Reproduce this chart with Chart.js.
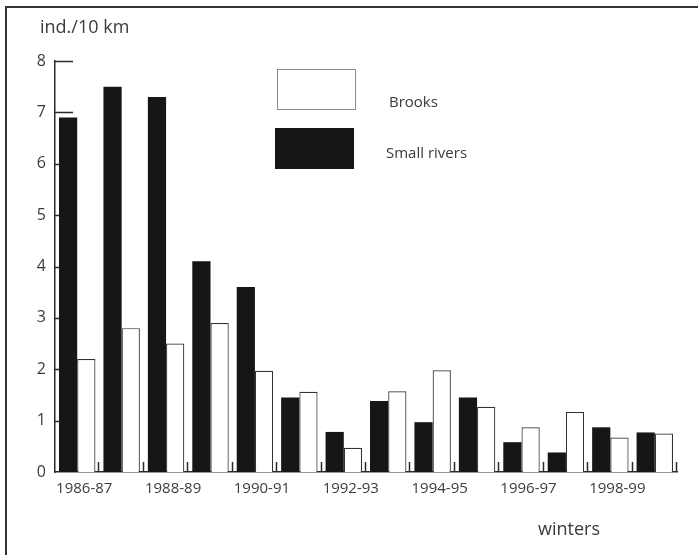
<!DOCTYPE html>
<html>
<head>
<meta charset="utf-8">
<script src="https://cdn.jsdelivr.net/npm/chart.js@4.4.1/dist/chart.umd.min.js"></script>
<style>
  html, body { margin: 0; padding: 0; background: #fff; }
  #wrap { position: relative; width: 698px; height: 555px; overflow: hidden; font-family: "Open Sans", "Noto Sans", sans-serif; color: #3a3a3a; }
  #frameTop { position: absolute; left: 5px; top: 6px; right: 0; height: 0; border-top: 2px solid #333; }
  #frameLeft { position: absolute; left: 5px; top: 6px; bottom: 0; width: 0; border-left: 2px solid #333; }
  #cv { position: absolute; left: 0; top: 0; }
  .txt { position: absolute; white-space: nowrap; line-height: 1; }
  #ytitle { left: 40px; top: 17px; font-size: 18px; }
  #xtitle { left: 538px; top: 519px; font-size: 18px; }
  .lgbox { position: absolute; box-sizing: border-box; width: 79px; height: 41px; }
  .lgtxt { position: absolute; font-size: 15px; line-height: 1; white-space: nowrap; }
</style>
</head>
<body>
<div id="wrap">
  <canvas id="cv" width="698" height="555"></canvas>
  <div id="frameTop"></div>
  <div id="frameLeft"></div>
  <div class="txt" id="ytitle">ind./10 km</div>
  <div class="txt" id="xtitle">winters</div>
  <div id="legend"></div>
</div>
<script>
// ---- data ----
const winters = ["1986-87","1987-88","1988-89","1989-90","1990-91","1991-92","1992-93",
                 "1993-94","1994-95","1995-96","1996-97","1997-98","1998-99","1999-00"];
const smallRivers = [6.9, 7.5, 7.3, 4.1, 3.6, 1.45, 0.78, 1.38, 0.97, 1.45, 0.58, 0.38, 0.87, 0.77];
const brooks      = [2.2, 2.8, 2.5, 2.9, 1.97, 1.56, 0.47, 1.57, 1.98, 1.27, 0.87, 1.17, 0.67, 0.75];
const yTicks = [0, 1, 2, 3, 4, 5, 6, 7, 8];
const seriesNames = ["Brooks", "Small rivers"];

const BLACK = "#161616";
const AXIS = "#2a2a2a";
const LABEL = "#3c3c3c";

// inward tick marks drawn from the scales
const innerTicks = {
  id: "innerTicks",
  beforeDatasetsDraw(chart) {
    const { ctx, scales: { x, y } } = chart;
    ctx.save();
    ctx.strokeStyle = AXIS;
    ctx.lineWidth = 1.5;
    yTicks.forEach(v => {
      if (v === 0) return;
      const py = Math.round(y.getPixelForValue(v)) + 0.5;
      const len = v >= 7 ? 18 : 5;
      ctx.beginPath();
      ctx.moveTo(x.left, py);
      ctx.lineTo(x.left + len, py);
      ctx.stroke();
    });
    const n = winters.length;
    const w = (x.right - x.left) / n;
    for (let i = 1; i <= n; i++) {
      const px = Math.round(x.left + i * w) - 0.5;
      ctx.beginPath();
      ctx.moveTo(px, y.bottom);
      ctx.lineTo(px, y.bottom - 10);
      ctx.stroke();
    }
    ctx.restore();
  }
};

const chart = new Chart(document.getElementById("cv"), {
  type: "bar",
  data: {
    labels: winters,
    datasets: [
      { label: seriesNames[1], data: smallRivers, backgroundColor: BLACK, borderWidth: 0 },
      { label: seriesNames[0], data: brooks, backgroundColor: "#ffffff", borderColor: "#333", borderWidth: 1.2, borderSkipped: "bottom" }
    ]
  },
  options: {
    responsive: false,
    animation: false,
    devicePixelRatio: 1,
    datasets: { bar: { categoryPercentage: 0.82, barPercentage: 1.0 } },
    layout: { padding: { left: 0, top: 61, right: 21, bottom: 0 } },
    plugins: { legend: { display: false }, tooltip: { enabled: false }, title: { display: false } },
    scales: {
      x: {
        grid: { display: false, drawTicks: false },
        border: { display: true, color: AXIS, width: 1.5 },
        ticks: {
          autoSkip: false, maxRotation: 0, minRotation: 0, padding: 8, labelOffset: 7,
          color: LABEL, font: { family: "'Open Sans', 'Noto Sans', sans-serif", size: 15 },
          callback: (v, i) => (i % 2 === 0 ? winters[i] : "")
        },
        afterFit: s => { s.height = 83; }
      },
      y: {
        min: 0, max: 8,
        grid: { display: false, drawTicks: false },
        border: { display: true, color: AXIS, width: 1.5 },
        ticks: {
          stepSize: 1, padding: 9, color: LABEL,
          font: { family: "'Open Sans', 'Noto Sans', sans-serif", size: 16 }
        },
        afterBuildTicks: s => { s.ticks = yTicks.map(v => ({ value: v })); },
        afterFit: s => { s.width = 55; }
      }
    }
  },
  plugins: [innerTicks]
});

// HTML legend built from the datasets
const legendPos = { "Brooks": { box: [277, 69], txt: [389, 94] }, "Small rivers": { box: [275, 128], txt: [386, 145] } };
const lg = document.getElementById("legend");
seriesNames.forEach(name => {
  const ds = chart.data.datasets.find(d => d.label === name);
  const p = legendPos[name];
  const b = document.createElement("div");
  b.className = "lgbox";
  b.style.left = p.box[0] + "px"; b.style.top = p.box[1] + "px";
  b.style.background = ds.backgroundColor;
  b.style.border = ds.backgroundColor === BLACK ? "none" : "1.5px solid #8a8a8a";
  lg.appendChild(b);
  const t = document.createElement("div");
  t.className = "lgtxt";
  t.style.left = p.txt[0] + "px"; t.style.top = p.txt[1] + "px";
  t.textContent = name;
  lg.appendChild(t);
});
</script>
</body>
</html>
